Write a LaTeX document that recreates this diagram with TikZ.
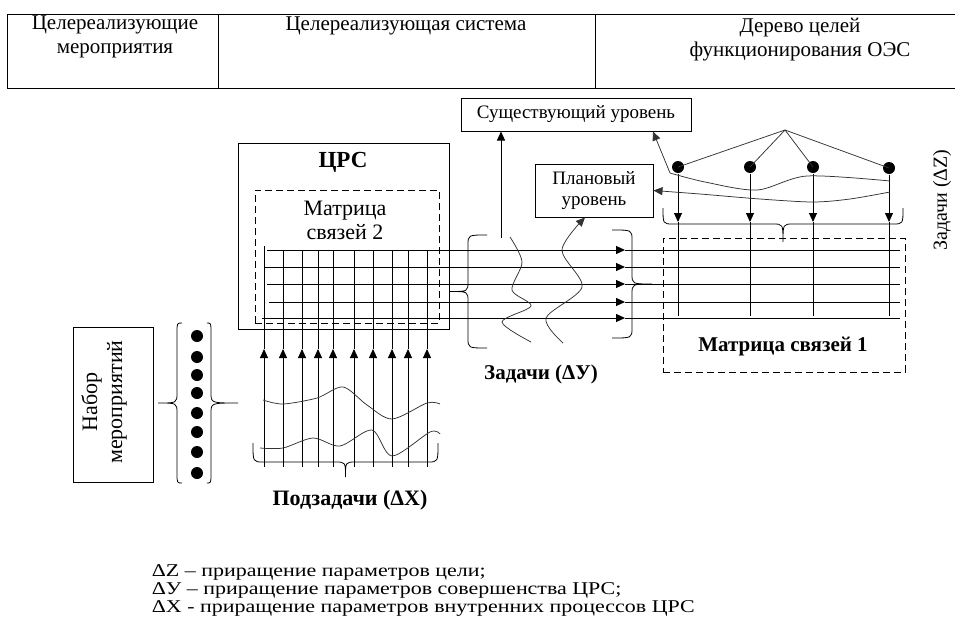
\documentclass[tikz,border=0pt]{standalone}
\usepackage{fontspec}
\setmainfont{Liberation Serif}
\newfontfamily\legfont[FakeStretch=1.22]{Liberation Serif}
\usetikzlibrary{arrows.meta}
\newcommand{\VBrace}[6]{%
 \draw[brc] ({#1+#4},#2) .. controls (#1,#2) .. (#1,{#2+#6}) -- (#1,{(#2+#3)/2-#6}) .. controls (#1,{(#2+#3)/2}) .. ({#1+#5},{(#2+#3)/2}) .. controls (#1,{(#2+#3)/2}) .. (#1,{(#2+#3)/2+#6}) -- (#1,{#3-#6}) .. controls (#1,#3) .. ({#1+#4},#3);}
\newcommand{\HBrace}[6]{%
 \draw[brc] (#2,{#1+#4}) .. controls (#2,#1) .. ({#2+#6},#1) -- ({(#2+#3)/2-#6},#1) .. controls ({(#2+#3)/2},#1) .. ({(#2+#3)/2},{#1+#5}) .. controls ({(#2+#3)/2},#1) .. ({(#2+#3)/2+#6},#1) -- ({#3-#6},#1) .. controls (#3,#1) .. (#3,{#1+#4});}
\begin{document}
\begin{tikzpicture}[x=1pt,y=-1pt,line width=1pt,
  box/.style={draw, rectangle, inner sep=0pt},
  dbox/.style={draw, rectangle, dash pattern=on 7pt off 4pt, inner sep=0pt},
  arr/.style={-{Triangle[length=9pt,width=8pt]}},
  thinln/.style={line width=0.75pt, draw=black!80},
  brc/.style={line width=0.8pt},
  dot/.style={circle, fill=black, inner sep=0pt, minimum size=12pt},
  hdr/.style={font=\fontsize{21}{24}\selectfont, align=center},
  lbl/.style={font=\fontsize{22}{24}\selectfont, align=center},
  blbl/.style={font=\bfseries\fontsize{21}{24}\selectfont, align=center},
  leg/.style={font=\legfont\fontsize{18}{20}\selectfont, anchor=west}]
\useasboundingbox (0,0) rectangle (955,621);
% header table
\coordinate (hTL) at (7,14); \coordinate (hTR) at (955,14);
\coordinate (hBL) at (7,88); \coordinate (hBR) at (955,88);
\coordinate (hD1t) at (218,14); \coordinate (hD1b) at (218,88);
\coordinate (hD2t) at (595,14); \coordinate (hD2b) at (595,88);
\draw (hTR) -- (hTL) -- (hBL) -- (hBR);
\draw (hD1t) -- (hD1b);
\draw (hD2t) -- (hD2b);
\node[hdr] (h1) at (115,37) {Целереализующие\\мероприятия};
\node[hdr] (h2) at (406,26) {Целереализующая система};
\node[hdr] (h3) at (800,40) {Дерево целей\\функционирования ОЭС};
% level boxes
\node[box, minimum width=230, minimum height=33, font=\fontsize{19}{21}\selectfont] (exist) at (576,114.5) {Существующий уровень};
\node[box, minimum width=118, minimum height=53, align=center, font=\fontsize{19}{21}\selectfont] (plan) at (594,190.5) {Плановый\\уровень};
% CRS
\node[box, minimum width=211, minimum height=186] (crs) at (343.5,236) {};
\node[blbl, font=\bfseries\fontsize{23}{24}\selectfont] (crslbl) at (343,162) {ЦРС};
\node[dbox, minimum width=184, minimum height=133] (m2) at (347,256.5) {};
\node[lbl] (m2lbl) at (345,220) {Матрица\\связей 2};
% matrix 1
\node[dbox, minimum width=242, minimum height=134] (m1) at (784,305) {};
\node[blbl] (m1lbl) at (783,347) {Матрица связей 1};
% rows
\foreach \xl/\y [count=\i] in {267/250,265/267,267/284,269/302,262/318}{
  \coordinate (rL\i) at (\xl,\y);
  \coordinate (rA\i) at (625,\y);
  \coordinate (rR\i) at (900,\y);
  \draw[arr] (rL\i) -- (rA\i);
  \draw (rA\i) -- (rR\i);
}
% columns of CRS
\foreach \x/\t [count=\i] in {264/246,283/250,302/250,318/250,333/250,354/250,373/250,392/250,408/250,427/250}{
  \coordinate (vB\i) at (\x,467);
  \coordinate (vA\i) at (\x,349);
  \coordinate (vT\i) at (\x,\t);
  \draw[arr] (vB\i) -- (vA\i);
  \draw (vA\i) -- (vT\i);
}
% subtask curves
\draw[thinln] plot[smooth] coordinates {(263,400) (283,404) (317,398) (343,387) (367,405) (392,419) (427,403) (440,404)};
\draw[thinln] plot[smooth] coordinates {(260,448) (283,448) (313,438) (340,446) (372,430) (392,456) (430,432) (440,434)};
\HBrace{462}{253}{438}{-19}{15}{10}
\node[blbl, font=\bfseries\fontsize{22}{24}\selectfont] (subt) at (350,500) {Подзадачи (ΔX)};
% set of measures
\node[box, minimum width=80, minimum height=155] (nabor) at (113,404.5) {};
\node[font=\fontsize{22}{25}\selectfont, rotate=90, align=center] (naborlbl) at (104,402) {Набор\\мероприятий};
\foreach \y [count=\i] in {336,357,375,393,413,432,452,473}{
  \node[dot] (p\i) at (197,\y) {};
}
\VBrace{177}{323}{483}{5}{-19}{10}
\VBrace{211}{323}{483}{-4}{27}{10}
% middle part
\VBrace{468}{235}{348}{19}{-18}{10}
\VBrace{632}{230}{338}{-20}{20}{10}
\coordinate (upS) at (501,238);
\draw[arr] (upS) -- ([xshift=-75pt]exist.south);
\draw[thinln] plot[smooth] coordinates {(510,237) (522,262) (512,290) (531,306) (502,322) (531,342)};
\draw[thinln, arr] plot[smooth] coordinates {(563,343) (546,318) (582,287) (562,250) ([xshift=-9pt]plan.south)};
\node[blbl, font=\bfseries\fontsize{21}{24}\selectfont] (zadY) at (541,374) {Задачи (ΔУ)};
% goal tree
\coordinate (apex) at (785,130);
\foreach \x/\y [count=\i] in {678/167,750/167,813/167,889/168}{
  \node[dot] (d\i) at (\x,\y) {};
  \coordinate (dt\i) at (\x,222);
  \coordinate (de\i) at (\x,316);
  \draw[thinln] (apex) -- (d\i.center);
  \draw[arr] (d\i) -- (dt\i);
  \draw (dt\i) -- (de\i);
}
\coordinate (cA) at (670,173);
\draw[thinln] plot[smooth] coordinates {(890,181) (807,176) (757,190) (705,182) (cA)};
\draw[thinln, arr] (cA) -- ([xshift=77pt]exist.south);
\draw[thinln, arr] plot[smooth] coordinates {(890,192) (850,199) (813,202) (760,199) (700,194) (plan.east)};
\HBrace{224}{663}{903}{-16}{18}{10}
\node[font=\fontsize{20}{22}\selectfont, rotate=90] (zadZ) at (942,200) {Задачи (ΔZ)};
% legend
\node[leg] (l1) at (148,572) {ΔZ – приращение параметров цели;};
\node[leg] (l2) at (148,590) {ΔУ – приращение параметров совершенства ЦРС;};
\node[leg] (l3) at (148,608) {ΔX - приращение параметров внутренних процессов ЦРС};
\end{tikzpicture}
\end{document}
